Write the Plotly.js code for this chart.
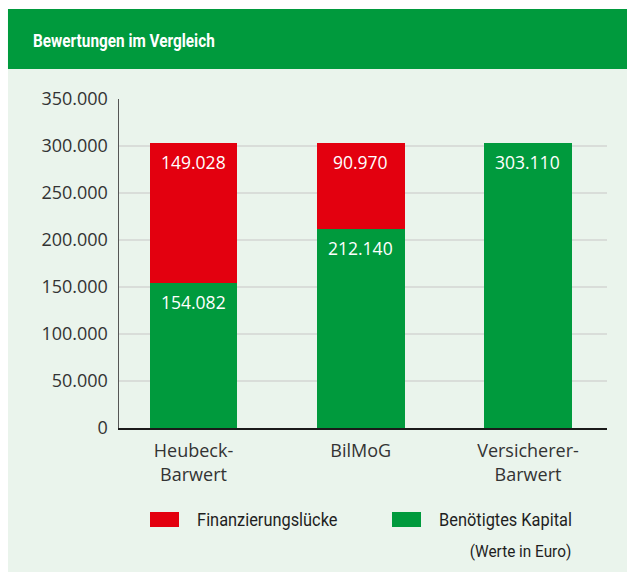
<!DOCTYPE html>
<html>
<head>
<meta charset="utf-8">
<script src="https://cdn.plot.ly/plotly-3.0.1.min.js"></script>
<style>html,body{margin:0;padding:0;background:#fff;}#chart{width:627px;height:572px;}</style>
</head>
<body>
<div id="chart"></div>
<script>
const chartTitle = "Bewertungen im Vergleich";
const categories = ["Heubeck-<br>Barwert", "BilMoG", "Versicherer-<br>Barwert"];
const seriesNames = ["Benötigtes Kapital", "Finanzierungslücke"];
const kapital = [154082, 212140, 303110];
const luecke = [149028, 90970, 0];
const yTicks = [0, 50000, 100000, 150000, 200000, 250000, 300000, 350000];
const note = "(Werte in Euro)";

const GREEN = "#009a3d", RED = "#e3000f", BG = "#eaf4ec";
const fmt = v => v.toString().replace(/\B(?=(\d{3})+(?!\d))/g, ".");

const traces = [
  {type: "bar", name: seriesNames[0], x: categories, y: kapital, marker: {color: GREEN}, width: 0.526, hoverinfo: "none"},
  {type: "bar", name: seriesNames[1], x: categories, y: luecke, marker: {color: RED}, width: 0.526, hoverinfo: "none"}
];

const annotations = [];
const squeeze = {}; // annotation index -> [scaleX, origin]
const valFont = {family: "Open Sans", size: 17.5, color: "#fff"};
categories.forEach((c, i) => {
  if (kapital[i] > 0) annotations.push({x: c, y: kapital[i], xref: "x", yref: "y", text: fmt(kapital[i]), showarrow: false, yanchor: "middle", yshift: -19, font: valFont});
  if (luecke[i] > 0) annotations.push({x: c, y: kapital[i] + luecke[i], xref: "x", yref: "y", text: fmt(luecke[i]), showarrow: false, yanchor: "middle", yshift: -19, font: valFont});
});
// header title
squeeze[annotations.length] = [0.852, "left"];
annotations.push({xref: "paper", yref: "paper", x: -0.1803, y: 1.1763, xanchor: "left", yanchor: "middle", text: "<b>" + chartTitle + "</b>", showarrow: false, font: {family: "Roboto", size: 18, color: "#fff"}});
// legend texts
const legFont = {family: "Roboto", size: 18, color: "#1e1e1e"};
squeeze[annotations.length] = [0.91, "left"];
annotations.push({xref: "paper", yref: "paper", x: 0.1557, y: -0.2796, xanchor: "left", yanchor: "middle", text: seriesNames[1], showarrow: false, font: legFont});
squeeze[annotations.length] = [0.91, "left"];
annotations.push({xref: "paper", yref: "paper", x: 0.6516, y: -0.2796, xanchor: "left", yanchor: "middle", text: seriesNames[0], showarrow: false, font: legFont});
squeeze[annotations.length] = [0.93, "right"];
annotations.push({xref: "paper", yref: "paper", x: 0.9303, y: -0.3739, xanchor: "right", yanchor: "middle", text: note, showarrow: false, font: {family: "Roboto", size: 16.5, color: "#1e1e1e"}});

const shapes = [
  {type: "rect", xref: "paper", yref: "paper", x0: -0.2275, x1: 1.07, y0: 1.0912, y1: -0.45, fillcolor: BG, line: {width: 0}, layer: "below"},
  {type: "rect", xref: "paper", yref: "paper", x0: -0.2275, x1: 1.07, y0: 1.2736, y1: 1.0912, fillcolor: GREEN, line: {width: 0}, layer: "below"},
  {type: "rect", xref: "paper", yref: "paper", x0: 0.0635, x1: 0.123, y0: -0.2553, y1: -0.3009, fillcolor: RED, line: {width: 0}},
  {type: "rect", xref: "paper", yref: "paper", x0: 0.5594, x1: 0.6189, y0: -0.2553, y1: -0.3009, fillcolor: GREEN, line: {width: 0}}
];

const layout = {
  width: 627, height: 572,
  margin: {l: 119, r: 20, t: 99, b: 144, pad: 0},
  paper_bgcolor: "#ffffff",
  plot_bgcolor: "rgba(0,0,0,0)",
  barmode: "stack",
  showlegend: false,
  separators: ",.",
  xaxis: {type: "category", range: [-0.4454, 2.4724], showgrid: false, showline: true, linecolor: "#1a1a1a", linewidth: 1.5, ticks: "", ticklabelstandoff: 6, tickfont: {family: "Open Sans", size: 18, color: "#333"}, fixedrange: true, zeroline: false},
  yaxis: {range: [0, 350000], tickvals: yTicks, ticktext: yTicks.map(fmt), showgrid: true, gridcolor: "#d9ddd9", gridwidth: 1.5, showline: true, linecolor: "#555", linewidth: 1.5, ticks: "", ticklabelstandoff: 6, tickfont: {family: "Open Sans", size: 18, color: "#333"}, zeroline: false, fixedrange: true},
  shapes: shapes,
  annotations: annotations
};

Plotly.newPlot("chart", traces, layout, {displayModeBar: false, staticPlot: true}).then(gd => {
  Object.keys(squeeze).forEach(k => {
    const [s, origin] = squeeze[k];
    const t = gd.querySelector('g.annotation[data-index="' + k + '"] text.annotation-text');
    if (t) {
      t.style.transformBox = "fill-box";
      t.style.transformOrigin = origin + " center";
      t.style.transform = "scaleX(" + s + ")";
    }
  });
});
</script>
</body>
</html>
